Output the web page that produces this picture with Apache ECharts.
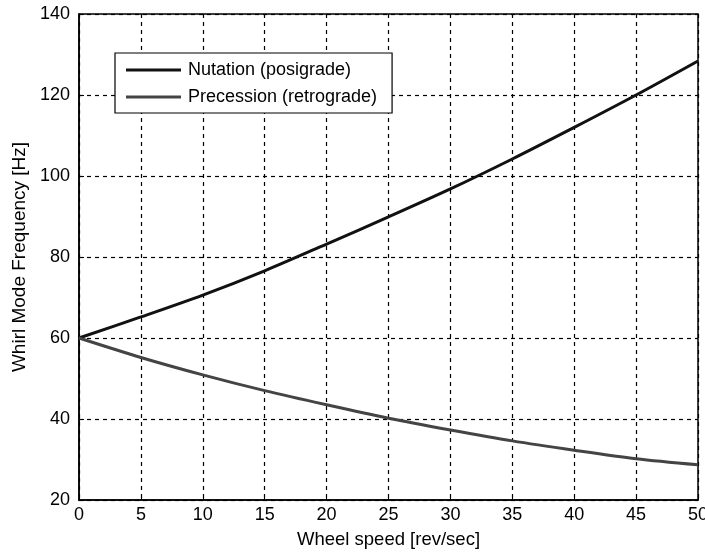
<!DOCTYPE html>
<html>
<head>
<meta charset="utf-8">
<script src="https://cdn.jsdelivr.net/npm/echarts@6/dist/echarts.min.js"></script>
<style>
html,body{margin:0;padding:0;background:#fff;overflow:hidden;}
#chart{width:705px;height:555px;}
</style>
</head>
<body>
<div id="chart"></div>
<script>
var wheelSpeed = [0, 5, 10, 15, 20, 25, 30, 35, 40, 45, 50];
var nutation = [60, 65.2, 70.6, 76.6, 83.2, 89.9, 96.8, 104.2, 112.0, 120.0, 128.4];
var precession = [60, 55.2, 50.9, 47.0, 43.5, 40.2, 37.3, 34.6, 32.3, 30.2, 28.7];
var xTicks = [0, 5, 10, 15, 20, 25, 30, 35, 40, 45, 50];
var yTicks = [20, 40, 60, 80, 100, 120, 140];

function pairs(xs, ys) { return xs.map(function (x, i) { return [x, ys[i]]; }); }

var font = 'Liberation Sans, Arial, sans-serif';
var chart = echarts.init(document.getElementById('chart'), null, { renderer: 'canvas' });
chart.setOption({
  backgroundColor: '#ffffff',
  animation: false,
  grid: { left: 79, right: 7, top: 14, bottom: 55, show: true, borderColor: '#000', borderWidth: 1.5,
          backgroundColor: 'transparent', containLabel: false, outerBoundsMode: 'none' },
  legend: {
    orient: 'vertical',
    left: 115, top: 53,
    backgroundColor: '#fff',
    borderColor: '#000',
    borderWidth: 1.2,
    borderRadius: 0,
    padding: [8, 15, 7, 11],
    itemGap: 9,
    itemWidth: 55,
    itemHeight: 3,
    icon: 'rect',
    textStyle: { fontFamily: font, fontSize: 18, lineHeight: 18, color: '#000', padding: [0, 0, 0, 2] },
    data: ['Nutation (posigrade)', 'Precession (retrograde)']
  },
  xAxis: {
    type: 'value',
    min: 0, max: 50, interval: 5,
    name: 'Wheel speed [rev/sec]',
    nameLocation: 'middle',
    nameGap: 30,
    nameTextStyle: { fontFamily: font, fontSize: 18.5, color: '#000' },
    axisLine: { show: true, lineStyle: { color: '#000', width: 1.5 } },
    axisTick: { show: true, inside: true, length: 5, lineStyle: { color: '#000' } },
    axisLabel: { fontFamily: font, fontSize: 18, color: '#000', margin: 6,
      formatter: function (v) { return xTicks.indexOf(v) >= 0 ? String(v) : ''; } },
    splitLine: { show: true, lineStyle: { color: '#000', type: [4, 4], width: 1.2 } }
  },
  yAxis: {
    type: 'value',
    min: 20, max: 140, interval: 20,
    name: 'Whirl Mode Frequency [Hz]',
    nameLocation: 'middle',
    nameGap: 47,
    nameTextStyle: { fontFamily: font, fontSize: 19, color: '#000' },
    axisLine: { show: true, lineStyle: { color: '#000', width: 1.5 } },
    axisTick: { show: true, inside: true, length: 5, lineStyle: { color: '#000' } },
    axisLabel: { fontFamily: font, fontSize: 18, color: '#000', margin: 9,
      formatter: function (v) { return yTicks.indexOf(v) >= 0 ? String(v) : ''; } },
    splitLine: { show: true, lineStyle: { color: '#000', type: [4, 4], width: 1.2 } }
  },
  series: [
    {
      name: 'Nutation (posigrade)',
      type: 'line',
      data: pairs(wheelSpeed, nutation),
      smooth: 0.3,
      symbol: 'none',
      lineStyle: { color: '#111', width: 3 },
      itemStyle: { color: '#111' }
    },
    {
      name: 'Precession (retrograde)',
      type: 'line',
      data: pairs(wheelSpeed, precession),
      smooth: 0.3,
      symbol: 'none',
      lineStyle: { color: '#444', width: 3 },
      itemStyle: { color: '#444' }
    }
  ]
});
</script>
</body>
</html>
